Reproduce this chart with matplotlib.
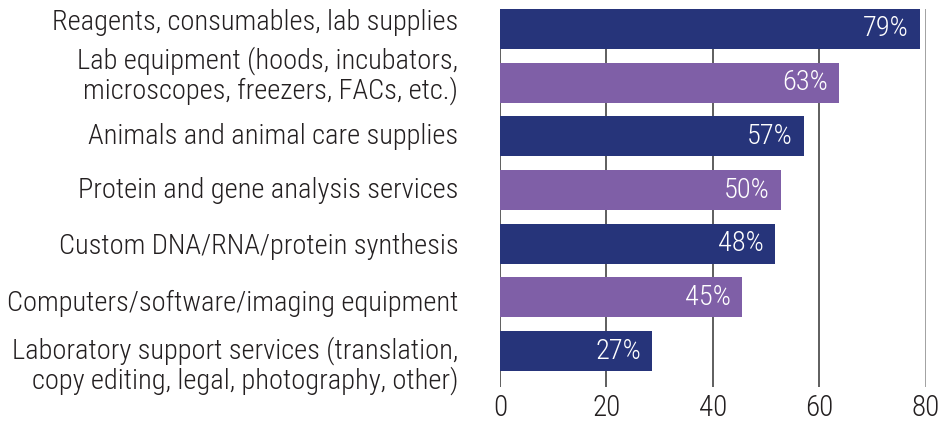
import matplotlib
matplotlib.use('Agg')
import matplotlib.pyplot as plt
from matplotlib import font_manager
from matplotlib.transforms import ScaledTranslation

installed = {f.name for f in font_manager.fontManager.ttflist}
for fam in ['Roboto Condensed', 'Archivo Narrow', 'Barlow Semi Condensed', 'Liberation Sans']:
    if fam in installed:
        break
plt.rcParams['font.family'] = [fam, 'DejaVu Sans']
plt.rcParams['font.weight'] = 'light'

categories = [
    'Reagents, consumables, lab supplies',
    'Lab equipment (hoods, incubators,\nmicroscopes, freezers, FACs, etc.)',
    'Animals and animal care supplies',
    'Protein and gene analysis services',
    'Custom DNA/RNA/protein synthesis',
    'Computers/software/imaging equipment',
    'Laboratory support services (translation,\ncopy editing, legal, photography, other)',
]
# bar lengths as drawn in the picture, and the printed labels
bar_lengths = [78.8, 63.7, 57.0, 52.8, 51.7, 45.5, 28.6]
pct_labels = ['79%', '63%', '57%', '50%', '48%', '45%', '27%']
ticks = [0, 20, 40, 60, 80]

navy = '#26347a'
purple = '#7f5fa7'
colors = [navy if i % 2 == 0 else purple for i in range(len(categories))]

fig = plt.figure(figsize=(9.41, 4.21), dpi=100)
ax = fig.add_axes([500 / 941, 1 - 387 / 421, 426 / 941, 378 / 421])

y = list(range(len(categories)))
bars = ax.barh(y, bar_lengths, height=0.745, color=colors, zorder=2)

for rect, lab in zip(bars, pct_labels):
    ax.annotate(lab, (rect.get_width(), rect.get_y() + rect.get_height() / 2),
                xytext=(-8, 0), textcoords='offset points',
                ha='right', va='center', color='white', fontsize=20.5, zorder=3)

# vertical grid lines
for t in ticks:
    ax.axvline(t, color='#888888' if t == 80 else '#333333', lw=1.1, zorder=1)

ax.set_xlim(0, 80)
ax.set_ylim(6.67, -0.3725)
ax.set_xticks(ticks)
ax.set_yticks(y)
ax.set_yticklabels(categories, fontsize=20.5, linespacing=1.05, color='#231f20')
ax.tick_params(axis='x', length=0, pad=5, labelsize=21, labelcolor='#231f20')
ax.tick_params(axis='y', length=0, pad=30)
for s in ax.spines.values():
    s.set_visible(False)

# labels in the original sit a little off the bar centres
shifts = [6.5, 8, 2, 2, 0, -2, -8]
for lbl, dy in zip(ax.get_yticklabels(), shifts):
    lbl.set_transform(lbl.get_transform() + ScaledTranslation(0, dy / 72, fig.dpi_scale_trans))

fig.savefig('out.png', dpi=100)
